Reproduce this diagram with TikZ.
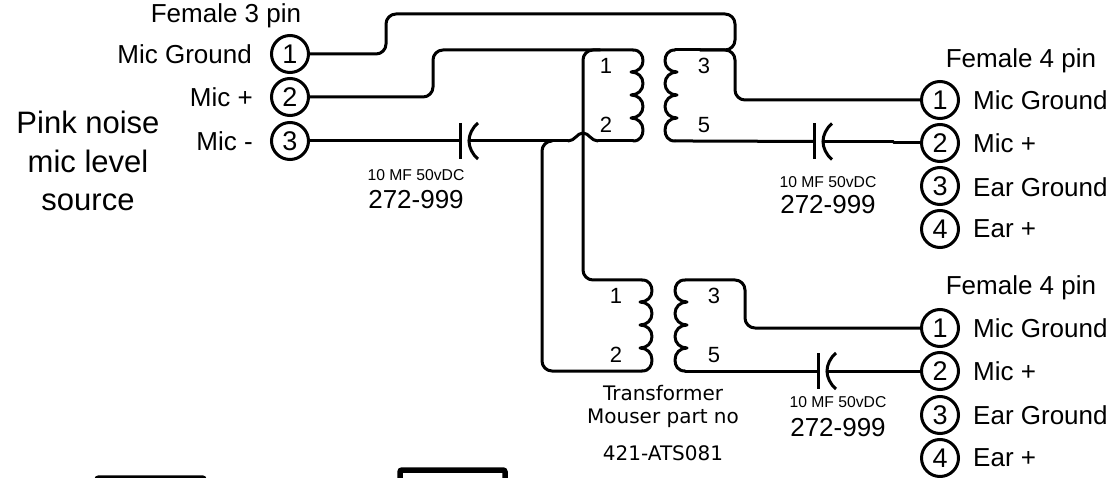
\documentclass[tikz,border=0pt]{standalone}
\usepackage{fontspec}
\setmainfont{Liberation Sans}
\newfontfamily\verdanaish{DejaVu Sans}
\newcommand{\fsz}[1]{\fontsize{#1}{#1}\selectfont}
\tikzset{
  wire/.style={line width=3pt,rounded corners=10pt,line cap=round,line join=round},
  lbl/.style={inner sep=0pt,font=\fsz{26}},
  pin/.style={circle,draw,line width=3pt,minimum size=37pt,inner sep=0pt,font=\fsz{27}},
  small/.style={inner sep=0pt,font=\fsz{15.7}},
  part/.style={inner sep=0pt,font=\fsz{26}},
  tnum/.style={inner sep=0pt,font=\fsz{22}},
  tnote/.style={inner sep=0pt,font=\verdanaish\fsz{20}},
  coil/.style={line width=3pt,line cap=round,line join=round},
}
\begin{document}
\begin{tikzpicture}[x=1pt,y=-1pt]
\useasboundingbox (0,0) rectangle (1116,478);
\begin{scope}
\clip (0,0) rectangle (1116,478);
\draw[line width=5.5pt,rounded corners=2pt] (97,478) rectangle (204,500);
\draw[line width=5.5pt,rounded corners=2pt] (400,470) rectangle (505,500);
\end{scope}

% text
\node[lbl] (t3) at (226,16) {Female 3 pin};
\node[lbl,anchor=east] (a1) at (252,54) {Mic Ground};
\node[lbl,anchor=east] (a2) at (253,97) {Mic +};
\node[lbl,anchor=east] (a3) at (253,141) {Mic -};
\node[inner sep=0pt,font=\fontsize{31}{38.5}\selectfont,align=center] (pn) at (88,161) {Pink noise\\mic level\\source};

% pins
\node[pin] (L1) at (290,54) {1};
\node[pin] (L2) at (290,97) {2};
\node[pin] (L3) at (290,141) {3};
\foreach \n/\y in {1/100,2/143,3/186,4/229}{\node[pin] (R\n) at (940,\y) {\n};}
\foreach \n/\y in {1/328,2/371,3/415,4/458}{\node[pin] (S\n) at (940,\y) {\n};}

\node[lbl] (f1) at (1021,61) {Female 4 pin};
\node[lbl,anchor=west] (m1) at (973,100) {Mic Ground};
\node[lbl,anchor=west] (m2) at (973,143) {Mic +};
\node[lbl,anchor=west] (m3) at (973,187) {Ear Ground};
\node[lbl,anchor=west] (m4) at (973,229) {Ear +};
\node[lbl] (f2) at (1021,288) {Female 4 pin};
\node[lbl,anchor=west] (n1) at (973,328) {Mic Ground};
\node[lbl,anchor=west] (n2) at (973,371) {Mic +};
\node[lbl,anchor=west] (n3) at (973,415) {Ear Ground};
\node[lbl,anchor=west] (n4) at (973,458) {Ear +};

% capacitor labels
\node[small] (c1a) at (416,175) {10 MF 50vDC};
\node[part] (c1b) at (416,200) {272-999};
\node[small] (c2a) at (828,182) {10 MF 50vDC};
\node[part] (c2b) at (828,205) {272-999};
\node[small] (c3a) at (838,402) {10 MF 50vDC};
\node[part] (c3b) at (838,428) {272-999};

% transformer numbers
\node[tnum] (p1) at (606,66) {1};
\node[tnum] (p2) at (606,125) {2};
\node[tnum] (p3) at (704,66) {3};
\node[tnum] (p5) at (704,125) {5};
\node[tnum] (q1) at (616,296) {1};
\node[tnum] (q2) at (616,355) {2};
\node[tnum] (q3) at (714,296) {3};
\node[tnum] (q5) at (714,355) {5};

\node[tnote] (x1) at (663,393) {Transformer};
\node[tnote] (x2) at (663,418) {Mouser part no};
\node[tnote] (x3) at (663,453) {421-ATS081};

% named junctions
\coordinate (j1) at (735,50);
\coordinate (cap1) at (460,141);
\coordinate (cap1r) at (469,141);
\coordinate (cap2) at (814,141.5);
\coordinate (cap2r) at (823,141.5);
\coordinate (cap3) at (818,371);
\coordinate (cap3r) at (827,371);

% wires
\draw[wire] (L1.east) -- (386,54) -- (386,14) -- (735,14) -- (j1) -- (700,50);
\draw[wire] (700,50) -- (j1) -- (735,100) -- (R1.west);
\draw[wire] (675,50) -- (700,50);
\draw[wire] (L2.east) -- (433,97) -- (433,50) -- (633,50);
\draw[wire] (L3.east) -- (cap1);
\draw[wire] (600,50) -- (583,50) -- (583,280) -- (642,280);
\draw[wire] (cap1r) -- (568,141);
\draw[coil] (568,141) .. controls (575,141) and (577,133) .. (583,133) .. controls (589,133) and (591,141) .. (598,141);
\draw[wire] (598,141) -- (633,141);
\draw[wire] (552,141) -- (542,141) -- (542,371) -- (642,371);
\draw[wire] (675,141) -- (700,141) -- (cap2);
\draw[wire,rounded corners=0pt] (cap2r) -- (893,141.5) -- (893,143) -- (R2.west);
\draw[wire] (685,280) -- (745,280) -- (745,328) -- (S1.west);
\draw[wire] (685,371) -- (cap3);
\draw[wire] (cap3r) -- (S2.west);

% capacitors
\foreach \x/\y in {460/141,814/141.5,818/371}{
  \draw[line width=3pt] (\x,\y-18) -- (\x,\y+18);
  \draw[line width=3pt] (\x+18,\y-18) .. controls (\x+12,\y-13) and (\x+9,\y-6) .. (\x+9,\y) .. controls (\x+9,\y+6) and (\x+12,\y+13) .. (\x+18,\y+18);
}

% coils
\foreach \x/\y/\d in {633/50/1,642/280/1,675/50/-1,685/280/-1}{
  \draw[coil] (\x,\y) .. controls (\x+\d*7,\y) and (\x+\d*10,\y+5) .. (\x+\d*10,\y+11)
    .. controls (\x+\d*10,\y+17) and (\x+\d*5,\y+22) .. (\x-\d*2,\y+22)
    .. controls (\x+\d*5,\y+22) and (\x+\d*10,\y+27) .. (\x+\d*10,\y+33.5)
    .. controls (\x+\d*10,\y+40) and (\x+\d*5,\y+45) .. (\x-\d*2,\y+45)
    .. controls (\x+\d*5,\y+45) and (\x+\d*10,\y+50) .. (\x+\d*10,\y+56.5)
    .. controls (\x+\d*10,\y+63) and (\x+\d*5,\y+68) .. (\x-\d*2,\y+68)
    .. controls (\x+\d*5,\y+68) and (\x+\d*10,\y+73) .. (\x+\d*10,\y+80)
    .. controls (\x+\d*10,\y+86) and (\x+\d*7,\y+91) .. (\x,\y+91);
}
\end{tikzpicture}
\end{document}
